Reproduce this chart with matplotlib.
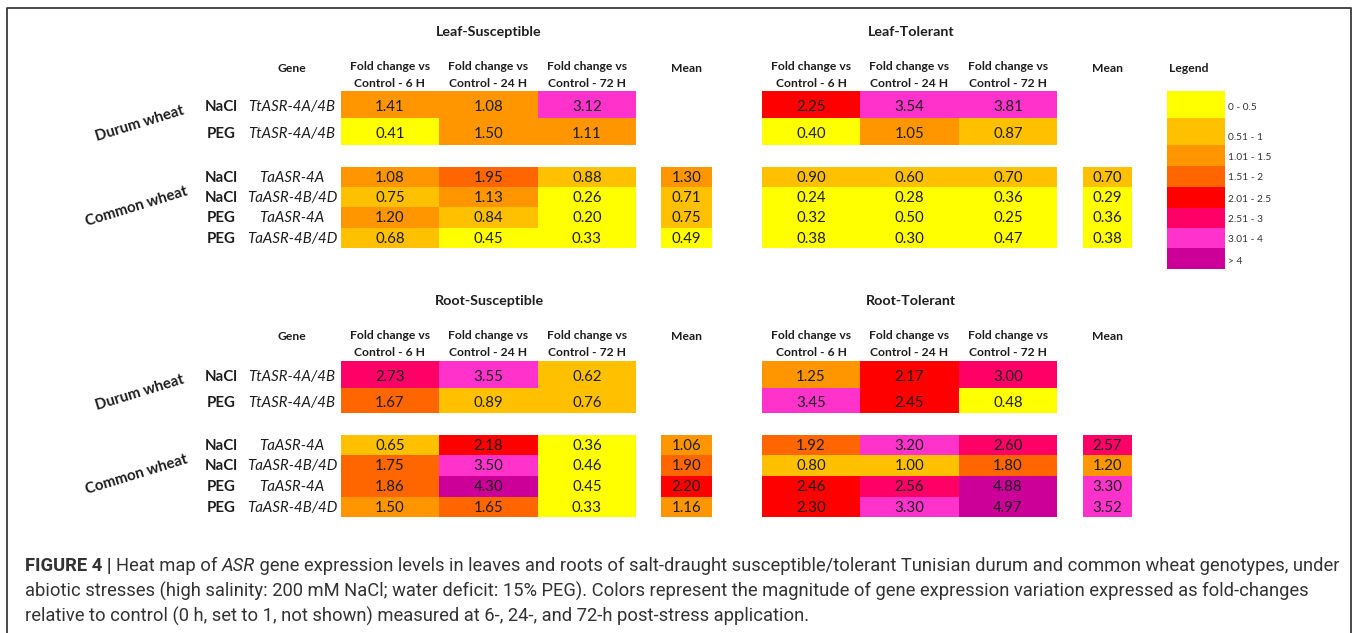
import matplotlib
matplotlib.use("Agg")
import matplotlib.pyplot as plt
import numpy as np
from matplotlib.colors import ListedColormap, BoundaryNorm

# ---------------- data ----------------
time_headers = ["Fold change vs\nControl - 6 H", "Fold change vs\nControl - 24 H", "Fold change vs\nControl - 72 H"]
durum_stress = ["NaCl", "PEG"]
durum_genes = ["TtASR-4A/4B", "TtASR-4A/4B"]
common_stress = ["NaCl", "NaCl", "PEG", "PEG"]
common_genes = ["TaASR-4A", "TaASR-4B/4D", "TaASR-4A", "TaASR-4B/4D"]

leaf_sus_durum = [[1.41, 1.08, 3.12], [0.41, 1.50, 1.11]]
leaf_sus_common = [[1.08, 1.95, 0.88], [0.75, 1.13, 0.26], [1.20, 0.84, 0.20], [0.68, 0.45, 0.33]]
leaf_sus_mean = [1.30, 0.71, 0.75, 0.49]

leaf_tol_durum = [[2.25, 3.54, 3.81], [0.40, 1.05, 0.87]]
leaf_tol_common = [[0.90, 0.60, 0.70], [0.24, 0.28, 0.36], [0.32, 0.50, 0.25], [0.38, 0.30, 0.47]]
leaf_tol_mean = [0.70, 0.29, 0.36, 0.38]

root_sus_durum = [[2.73, 3.55, 0.62], [1.67, 0.89, 0.76]]
root_sus_common = [[0.65, 2.18, 0.36], [1.75, 3.50, 0.46], [1.86, 4.30, 0.45], [1.50, 1.65, 0.33]]
root_sus_mean = [1.06, 1.90, 2.20, 1.16]

root_tol_durum = [[1.25, 2.17, 3.00], [3.45, 2.45, 0.48]]
root_tol_common = [[1.92, 3.20, 2.60], [0.80, 1.00, 1.80], [2.46, 2.56, 4.88], [2.30, 3.30, 4.97]]
root_tol_mean = [2.57, 1.20, 3.30, 3.52]

bin_labels = ["0 - 0.5", "0.51 - 1", "1.01 - 1.5", "1.51 - 2", "2.01 - 2.5", "2.51 - 3", "3.01 - 4", "> 4"]
bin_edges = [0, 0.505, 1.005, 1.505, 2.005, 2.505, 3.005, 4.005, 100]
bin_colors = ["#FFFF00", "#FFC000", "#FF9600", "#FF6600", "#FF0000", "#FF0066", "#FF33CC", "#CC0099"]
legend_values = [0.25, 0.75, 1.25, 1.75, 2.25, 2.75, 3.5, 4.5]

# ---------------- figure ----------------
W, H = 1358, 633
fig = plt.figure(figsize=(W / 100, H / 100), dpi=100)
ax = fig.add_axes([0, 0, 1, 1])
ax.set_xlim(0, W)
ax.set_ylim(H, 0)
ax.axis("off")

cmap = ListedColormap(bin_colors)
norm = BoundaryNorm(bin_edges, cmap.N)

FONT = ["Lato", "DejaVu Sans"]
TXT = "#1e1e1e"

# frame
ax.plot([7, 7, 1351, 1351], [H, 8, 8, H], color="#3a3a3a", lw=1.3, solid_capstyle="butt")

left_x = [341, 439, 538, 636, 661, 712]
right_x = [762, 860, 959, 1057, 1083, 1132]
leaf_y = [91, 118, 145, 167, 187, 207, 228, 248]
root_y = [361, 388, 413, 435, 455, 476, 497, 517]


def panel(xe, ye, durum, common, mean):
    arr = np.full((7, 5), np.nan)
    arr[0:2, 0:3] = durum
    arr[3:7, 0:3] = common
    arr[3:7, 4] = mean
    m = np.ma.masked_invalid(arr)
    ax.pcolormesh(xe, ye, m, cmap=cmap, norm=norm, edgecolors="none",
                  linewidth=0, antialiased=False)
    for i in range(7):
        for j in range(5):
            v = arr[i, j]
            if np.isnan(v):
                continue
            cx = (xe[j] + xe[j + 1]) / 2
            cy = (ye[i] + ye[i + 1]) / 2 + (2.5 if i < 2 else 0.8)
            ax.text(cx, cy, f"{v:.2f}", ha="center", va="center", fontsize=10.8,
                    family=FONT, color=TXT)


def section(ye, ytitle, yhead, titles):
    ax.text(489, ytitle, titles[0], ha="center", va="center", fontsize=10.3,
            weight="bold", family=FONT, color=TXT)
    ax.text(911, ytitle, titles[1], ha="center", va="center", fontsize=10.3,
            weight="bold", family=FONT, color=TXT)
    ax.text(292, yhead - 7, "Gene", ha="center", va="center", fontsize=8.7,
            weight="bold", family=FONT, color=TXT)
    for xe in (left_x, right_x):
        for j, h in enumerate(time_headers):
            cx = (xe[j] + xe[j + 1]) / 2
            ax.text(cx, yhead, h, ha="center", va="center", fontsize=8.7,
                    weight="bold", family=FONT, color=TXT, linespacing=1.6)
        ax.text((xe[4] + xe[5]) / 2, yhead - 7, "Mean", ha="center", va="center",
                fontsize=8.7, weight="bold", family=FONT, color=TXT)
    rows = [(0, durum_stress[0], durum_genes[0]), (1, durum_stress[1], durum_genes[1])]
    rows += [(3 + k, common_stress[k], common_genes[k]) for k in range(4)]
    for i, s, g in rows:
        cy = (ye[i] + ye[i + 1]) / 2 + (2.5 if i < 2 else 0.8)
        ax.text(221, cy, s, ha="center", va="center", fontsize=10.8, weight="bold",
                family=FONT, color=TXT)
        ax.text(292, cy, g, ha="center", va="center", fontsize=10.8, style="italic",
                family=FONT, color=TXT)
    ax.text(140, (ye[0] + ye[2]) / 2 + 6, "Durum wheat", ha="center", va="center",
            rotation=17, fontsize=10.8, weight="bold", family=FONT, color=TXT)
    ax.text(137, (ye[3] + ye[7]) / 2 - 1, "Common wheat", ha="center", va="center",
            rotation=17, fontsize=10.8, weight="bold", family=FONT, color=TXT)


section(leaf_y, 32, 75, ["Leaf-Susceptible", "Leaf-Tolerant"])
section(root_y, 301, 344, ["Root-Susceptible", "Root-Tolerant"])

panel(left_x, leaf_y, leaf_sus_durum, leaf_sus_common, leaf_sus_mean)
panel(right_x, leaf_y, leaf_tol_durum, leaf_tol_common, leaf_tol_mean)
panel(left_x, root_y, root_sus_durum, root_sus_common, root_sus_mean)
panel(right_x, root_y, root_tol_durum, root_tol_common, root_tol_mean)

# legend
ax.text(1189, 68, "Legend", ha="center", va="center", fontsize=8.7, weight="bold",
        family=FONT, color=TXT)
leg_y = [91, 118, 145, 166, 187, 208, 228, 248, 269]
ax.pcolormesh([1167, 1225], leg_y, np.array(legend_values).reshape(-1, 1), cmap=cmap,
              norm=norm, edgecolors="none", linewidth=0, antialiased=False)
leg_label_y = [107, 137, 157, 178, 199, 219, 240, 261]
for lab, yy in zip(bin_labels, leg_label_y):
    ax.text(1228, yy, lab, ha="left", va="center", fontsize=7.3, family=FONT,
            color="#333333")

# caption
fig.canvas.draw()
renderer = fig.canvas.get_renderer()
CAP = ["Roboto", "DejaVu Sans"]
cap_lines = [
    [("FIGURE 4 | ", "bold", "normal"), ("Heat map of ", "normal", "normal"), ("ASR", "normal", "italic"),
     (" gene expression levels in leaves and roots of salt-draught susceptible/tolerant Tunisian durum and common wheat genotypes, under", "normal", "normal")],
    [("abiotic stresses (high salinity: 200 mM NaCl; water deficit: 15% PEG). Colors represent the magnitude of gene expression variation expressed as fold-changes", "normal", "normal")],
    [("relative to control (0 h, set to 1, not shown) measured at 6-, 24-, and 72-h post-stress application.", "normal", "normal")],
]
cap_y = [566, 591, 616]


def line_width(parts, fs):
    tot = 0
    for s, w, st in parts:
        t = ax.text(0, 0, s, fontsize=fs, weight=w, style=st, family=CAP)
        bb = t.get_window_extent(renderer)
        tot += bb.width
        t.remove()
    return tot


fs0 = 12
w0 = line_width(cap_lines[0], fs0)
cap_fs = fs0 * 1307 / w0

for parts, yy in zip(cap_lines, cap_y):
    x = 25
    for s, w, st in parts:
        t = ax.text(x, yy, s, fontsize=cap_fs, weight=w, style=st, family=CAP,
                    color="#333333", ha="left", va="center")
        bb = t.get_window_extent(renderer)
        x += bb.width

fig.savefig("out.png", dpi=100)
